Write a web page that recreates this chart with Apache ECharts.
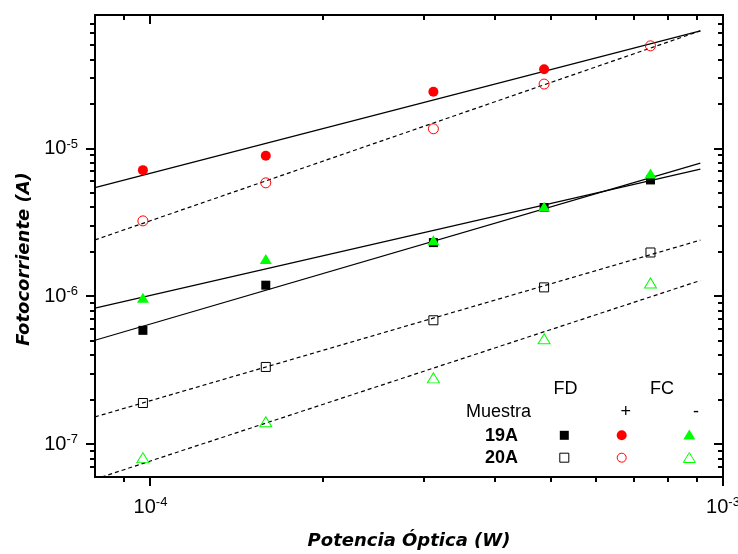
<!DOCTYPE html>
<html>
<head>
<meta charset="utf-8">
<script src="https://cdn.jsdelivr.net/npm/echarts@6/dist/echarts.min.js"></script>
<style>
html,body{margin:0;padding:0;background:#fff;}
#chart{width:738px;height:554px;}
</style>
</head>
<body>
<div id="chart"></div>
<script>
// ---- data ----
var xPower = [9.7e-5, 1.59e-4, 3.12e-4, 4.87e-4, 7.47e-4];            // Potencia Óptica (W)
var s19FD    = [5.89e-7, 1.19e-6, 2.31e-6, 3.99e-6, 6.13e-6];          // 19A, FD
var s19Plus  = [7.14e-6, 8.93e-6, 2.42e-5, 3.44e-5, null];             // 19A, FC +
var s19Minus = [9.77e-7, 1.79e-6, 2.40e-6, 4.03e-6, 6.78e-6];          // 19A, FC -
var s20FD    = [1.90e-7, 3.33e-7, 6.89e-7, 1.15e-6, 1.98e-6];          // 20A, FD
var s20Plus  = [3.24e-6, 5.86e-6, 1.36e-5, 2.73e-5, 4.95e-5];          // 20A, FC +
var s20Minus = [8.11e-8, 1.42e-7, 2.81e-7, 5.17e-7, 1.23e-6];          // 20A, FC -

// fitted lines: values at the two ends of fitX
var fitX       = [8e-5, 9.13e-4];
var fit19FD    = [5.05e-7, 7.97e-6];
var fit19Plus  = [5.44e-6, 6.25e-5];
var fit19Minus = [8.33e-7, 7.25e-6];
var fit20FD    = [1.53e-7, 2.40e-6];
var fit20Plus  = [2.41e-6, 6.25e-5];
var fit20Minus = [5.8e-8, 1.28e-6];

// axis ranges and ticks
var xRange = [8e-5, 1e-3];
var yRange = [6e-8, 8e-5];
var xMajorTicks = [1e-4, 1e-3];
var xMinorTicks = [9e-5, 2e-4, 3e-4, 4e-4, 5e-4, 6e-4, 7e-4, 8e-4, 9e-4];
var yMajorTicks = [1e-7, 1e-6, 1e-5];
var yMinorTicks = [7e-8, 8e-8, 9e-8, 2e-7, 3e-7, 4e-7, 5e-7, 6e-7, 7e-7, 8e-7, 9e-7,
                   2e-6, 3e-6, 4e-6, 5e-6, 6e-6, 7e-6, 8e-6, 9e-6,
                   2e-5, 3e-5, 4e-5, 5e-5, 6e-5, 7e-5];

// legend texts
var legendHeaderFD = 'FD';
var legendHeaderFC = 'FC';
var legendMuestra = 'Muestra';
var legendPlus = '+';
var legendMinus = '-';
var sampleNames = ['19A', '20A'];
var xTitle = 'Potencia Óptica (W)';
var yTitle = 'Fotocorriente (A)';

// ---- build ----
function pts(ys) {
  var out = [];
  for (var i = 0; i < xPower.length; i++) if (ys[i] != null) out.push([xPower[i], ys[i]]);
  return out;
}
function fit(ys) { return [[fitX[0], ys[0]], [fitX[1], ys[1]]]; }

var tickData = [];
xMajorTicks.forEach(function (v) { tickData.push([v, 1e-6, 0]); });
xMinorTicks.forEach(function (v) { tickData.push([v, 1e-6, 1]); });
yMajorTicks.forEach(function (v) { tickData.push([1e-4, v, 2]); });
yMinorTicks.forEach(function (v) { tickData.push([1e-4, v, 3]); });

var FONT = 'Liberation Sans';
function powLabel(v) {
  var e = Math.log10(v), r = Math.round(e);
  if (Math.abs(e - r) > 1e-6) return '';
  return '{b|10}{s|' + r + '}';
}
var labelRich = {
  b: { fontSize: 20, fontFamily: FONT, color: '#000', lineHeight: 22 },
  s: { fontSize: 13, fontFamily: FONT, color: '#000', verticalAlign: 'top', lineHeight: 13 }
};

var RED = '#ff0000', GREEN = '#00ff00';
var empty = 'rgba(0,0,0,0)';

function fitSeries(name, ys, dashed) {
  return {
    name: name, type: 'line', data: fit(ys), symbol: 'none', silent: true, z: 2,
    lineStyle: { color: '#000', width: 1.2, type: dashed ? [4, 3] : 'solid' },
    animation: false
  };
}
function scat(name, ys, symbol, size, fill, stroke) {
  return {
    name: name, type: 'scatter', data: pts(ys), symbol: symbol, symbolSize: size, z: 3,
    itemStyle: { color: fill, borderColor: stroke, borderWidth: fill === empty ? 1 : 0, opacity: 1 },
    animation: false
  };
}

var chart = echarts.init(document.getElementById('chart'), null, { renderer: 'canvas' });
var option = {
  backgroundColor: '#fff',
  animation: false,
  grid: { left: 95, right: 15, top: 15, bottom: 77, containLabel: false, outerBoundsMode: 'none',
          show: true, borderColor: '#000', borderWidth: 2, backgroundColor: 'transparent' },
  xAxis: {
    type: 'log', logBase: 10, min: xRange[0], max: xRange[1],
    axisLine: { show: false }, axisTick: { show: false }, splitLine: { show: false },
    axisLabel: { formatter: powLabel, rich: labelRich, margin: 19, hideOverlap: false, showMinLabel: true, showMaxLabel: true },
    name: xTitle, nameLocation: 'middle', nameGap: 55,
    nameTextStyle: { fontFamily: 'DejaVu Sans', fontWeight: 'bold', fontStyle: 'italic', fontSize: 18, color: '#000' }
  },
  yAxis: {
    type: 'log', logBase: 10, min: yRange[0], max: yRange[1],
    axisLine: { show: false }, axisTick: { show: false }, splitLine: { show: false },
    axisLabel: { formatter: powLabel, rich: labelRich, margin: 17, hideOverlap: false },
    name: yTitle, nameLocation: 'middle', nameGap: 62, nameRotate: 90,
    nameTextStyle: { fontFamily: 'DejaVu Sans', fontWeight: 'bold', fontStyle: 'italic', fontSize: 18, color: '#000', padding: [0, 26, 0, 0] }
  },
  series: [
    {
      type: 'custom', silent: true, clip: false, z: 1, data: tickData, encode: { x: 0, y: 1 },
      renderItem: function (params, api) {
        var kind = api.value(2);
        var cs = params.coordSys;
        var len = (kind === 0 || kind === 2) ? 9 : 5;
        var st = { stroke: '#000', lineWidth: 2 };
        if (kind < 2) {
          var px = Math.round(api.coord([api.value(0), api.value(1)])[0]);
          var yb = cs.y + cs.height;
          return { type: 'group', children: [
            { type: 'line', shape: { x1: px, y1: yb, x2: px, y2: yb + len }, style: st },
            { type: 'line', shape: { x1: px, y1: cs.y, x2: px, y2: cs.y + len }, style: st }
          ] };
        } else {
          var py = Math.round(api.coord([api.value(0), api.value(1)])[1]);
          var xr = cs.x + cs.width;
          return { type: 'group', children: [
            { type: 'line', shape: { x1: cs.x - len, y1: py, x2: cs.x, y2: py }, style: st },
            { type: 'line', shape: { x1: xr - len, y1: py, x2: xr, y2: py }, style: st }
          ] };
        }
      }
    },
    fitSeries('fit 19A +', fit19Plus, false),
    fitSeries('fit 20A +', fit20Plus, true),
    fitSeries('fit 19A FD', fit19FD, false),
    fitSeries('fit 19A -', fit19Minus, false),
    fitSeries('fit 20A FD', fit20FD, true),
    fitSeries('fit 20A -', fit20Minus, true),
    scat('19A FD', s19FD, 'rect', 9, '#000', '#000'),
    scat('20A FD', s20FD, 'rect', 9, empty, '#000'),
    scat('19A +', s19Plus, 'circle', 10, RED, RED),
    scat('20A +', s20Plus, 'circle', 10, empty, RED),
    scat('19A -', s19Minus, 'triangle', [12, 10], GREEN, GREEN),
    scat('20A -', s20Minus, 'triangle', [12, 10], empty, GREEN)
  ],
  graphic: [
    { type: 'text', x: 565.5, y: 389, style: { text: legendHeaderFD, font: '18px "Liberation Sans"', fill: '#000', textAlign: 'center', textVerticalAlign: 'middle' } },
    { type: 'text', x: 662, y: 389, style: { text: legendHeaderFC, font: '18px "Liberation Sans"', fill: '#000', textAlign: 'center', textVerticalAlign: 'middle' } },
    { type: 'text', x: 498.5, y: 412, style: { text: legendMuestra, font: '18px "Liberation Sans"', fill: '#000', textAlign: 'center', textVerticalAlign: 'middle' } },
    { type: 'text', x: 625.7, y: 412, style: { text: legendPlus, font: '18px "Liberation Sans"', fill: '#000', textAlign: 'center', textVerticalAlign: 'middle' } },
    { type: 'text', x: 696, y: 412, style: { text: legendMinus, font: '18px "Liberation Sans"', fill: '#000', textAlign: 'center', textVerticalAlign: 'middle' } },
    { type: 'text', x: 501.5, y: 436, style: { text: sampleNames[0], font: 'bold 18px "Liberation Sans"', fill: '#000', textAlign: 'center', textVerticalAlign: 'middle' } },
    { type: 'text', x: 501.5, y: 458.3, style: { text: sampleNames[1], font: 'bold 18px "Liberation Sans"', fill: '#000', textAlign: 'center', textVerticalAlign: 'middle' } },
    { type: 'rect', shape: { x: 559.8, y: 430.8, width: 9, height: 9 }, style: { fill: '#000' } },
    { type: 'rect', shape: { x: 559.8, y: 453.2, width: 9, height: 9 }, style: { fill: empty, stroke: '#000', lineWidth: 1 } },
    { type: 'circle', shape: { cx: 621.7, cy: 435.3, r: 5 }, style: { fill: RED } },
    { type: 'circle', shape: { cx: 621.7, cy: 457.7, r: 4.5 }, style: { fill: empty, stroke: RED, lineWidth: 1 } },
    { type: 'polygon', shape: { points: [[683.3, 439.5], [695.3, 439.5], [689.3, 429.5]] }, style: { fill: GREEN } },
    { type: 'polygon', shape: { points: [[683.3, 462.5], [695.3, 462.5], [689.3, 452.5]] }, style: { fill: empty, stroke: GREEN, lineWidth: 1 } }
  ]
};
chart.setOption(option);
</script>
</body>
</html>
